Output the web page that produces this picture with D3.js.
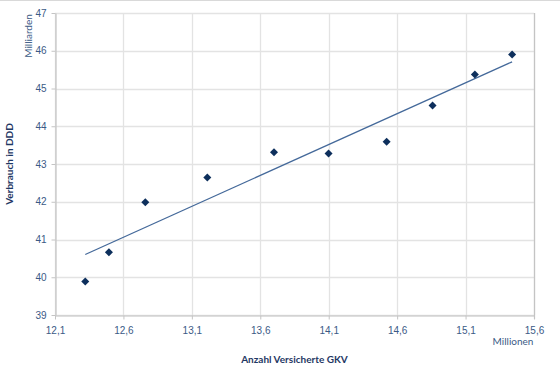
<!DOCTYPE html>
<html>
<head>
<meta charset="utf-8">
<script src="https://cdn.jsdelivr.net/npm/d3@7"></script>
<style>
  body { margin: 0; background: #fff; }
  svg { font-family: Lato, "Open Sans", sans-serif; }
</style>
</head>
<body>
<div id="chart"></div>
<script>
// Versicherte (Mio) vs Verbrauch (Mrd DDD)
var versicherte = [12.321, 12.494, 12.760, 13.213, 13.700, 14.099, 14.523, 14.859, 15.168, 15.440];
var verbrauch = [39.89, 40.66, 41.99, 42.64, 43.31, 43.28, 43.59, 44.55, 45.37, 45.90];
var xTicks = [12.1, 12.6, 13.1, 13.6, 14.1, 14.6, 15.1, 15.6];
var yTicks = [39, 40, 41, 42, 43, 44, 45, 46, 47];

var width = 560, height = 374;
var plotLeft = 55, plotRight = 534, plotTop = 13, plotBottom = 315;
var textColor = "#3b5a86";

var svg = d3.select("#chart").append("svg")
  .attr("width", width)
  .attr("height", height);

// outer border line at the top
svg.append("line")
  .attr("x1", 0).attr("x2", width)
  .attr("y1", 0.5).attr("y2", 0.5)
  .attr("stroke", "#d9d9d9");

var x = d3.scaleLinear().domain([12.1, 15.6]).range([plotLeft, plotRight]);
var y = d3.scaleLinear().domain([39, 47]).range([plotBottom, plotTop]);

var fmt = function(d){ return d3.format(".1f")(d).replace(".", ","); };

// gridlines
svg.append("g").selectAll("line")
  .data(yTicks)
  .enter()
  .append("line")
  .attr("x1", plotLeft).attr("x2", plotRight)
  .attr("y1", function(d){ return Math.round(y(d)) + 0.5; })
  .attr("y2", function(d){ return Math.round(y(d)) + 0.5; })
  .attr("stroke", "#e3e3e3")
  .attr("stroke-width", 1.3);

svg.append("g").selectAll("line")
  .data(xTicks)
  .enter()
  .append("line")
  .attr("x1", function(d){ return Math.round(x(d)) + 0.5; })
  .attr("x2", function(d){ return Math.round(x(d)) + 0.5; })
  .attr("y1", plotTop).attr("y2", plotBottom)
  .attr("stroke", "#e3e3e3")
  .attr("stroke-width", 1.3);

// axes
var xAxis = svg.append("g")
  .attr("transform", "translate(0," + (plotBottom + 0.5) + ")")
  .call(d3.axisBottom(x).tickValues(xTicks).tickFormat(fmt).tickSize(4).tickSizeOuter(0));
var yAxis = svg.append("g")
  .attr("transform", "translate(" + (plotLeft + 0.5) + ",0)")
  .call(d3.axisLeft(y).tickValues(yTicks).tickFormat(d3.format("d")).tickSize(4).tickSizeOuter(0));

[xAxis, yAxis].forEach(function(a){
  a.select(".domain").attr("stroke", "#c4c4c4").attr("stroke-width", 1.2);
  a.selectAll(".tick line").attr("stroke", "#c4c4c4");
  a.selectAll(".tick text").attr("fill", textColor).style("font-size", "10px");
});
xAxis.selectAll(".tick text").attr("dy", "1.1em");
yAxis.selectAll(".tick text").attr("x", -9);

// right border of the plot area
svg.append("line")
  .attr("x1", plotRight + 0.5).attr("x2", plotRight + 0.5)
  .attr("y1", plotTop).attr("y2", plotBottom + 4)
  .attr("stroke", "#c4c4c4")
  .attr("stroke-width", 1.2);

// linear trendline (least squares)
var n = versicherte.length;
var mx = d3.mean(versicherte), my = d3.mean(verbrauch);
var sxy = 0, sxx = 0;
for (var i = 0; i < n; i++) {
  sxy += (versicherte[i] - mx) * (verbrauch[i] - my);
  sxx += (versicherte[i] - mx) * (versicherte[i] - mx);
}
var slope = sxy / sxx;
var icpt = my - slope * mx;
var x0 = d3.min(versicherte), x1 = d3.max(versicherte);

svg.append("line")
  .attr("x1", x(x0)).attr("y1", y(icpt + slope * x0))
  .attr("x2", x(x1)).attr("y2", y(icpt + slope * x1))
  .attr("stroke", "#44699a")
  .attr("stroke-width", 1.3);

// markers
svg.append("g").selectAll("path")
  .data(versicherte)
  .enter()
  .append("path")
  .attr("transform", function(d, i){ return "translate(" + x(d) + "," + y(verbrauch[i]) + ")"; })
  .attr("d", "M0,-4 L4,0 L0,4 L-4,0 Z")
  .attr("fill", "#0d2f5c");

// labels
svg.append("text")
  .attr("transform", "translate(32,36) rotate(-90)")
  .attr("text-anchor", "middle")
  .attr("fill", textColor)
  .style("font-size", "10px")
  .text("Milliarden");

svg.append("text")
  .attr("transform", "translate(13," + ((plotTop + plotBottom) / 2) + ") rotate(-90)")
  .attr("text-anchor", "middle")
  .attr("fill", "#1f3864")
  .style("font-size", "10px")
  .style("font-weight", "bold")
  .text("Verbrauch in DDD");

svg.append("text")
  .attr("x", (plotLeft + plotRight) / 2)
  .attr("y", 363)
  .attr("text-anchor", "middle")
  .attr("fill", "#1f3864")
  .style("font-size", "10px")
  .style("font-weight", "bold")
  .text("Anzahl Versicherte GKV");

svg.append("text")
  .attr("x", 513)
  .attr("y", 345)
  .attr("text-anchor", "middle")
  .attr("fill", textColor)
  .style("font-size", "10px")
  .text("Millionen");
</script>
</body>
</html>
